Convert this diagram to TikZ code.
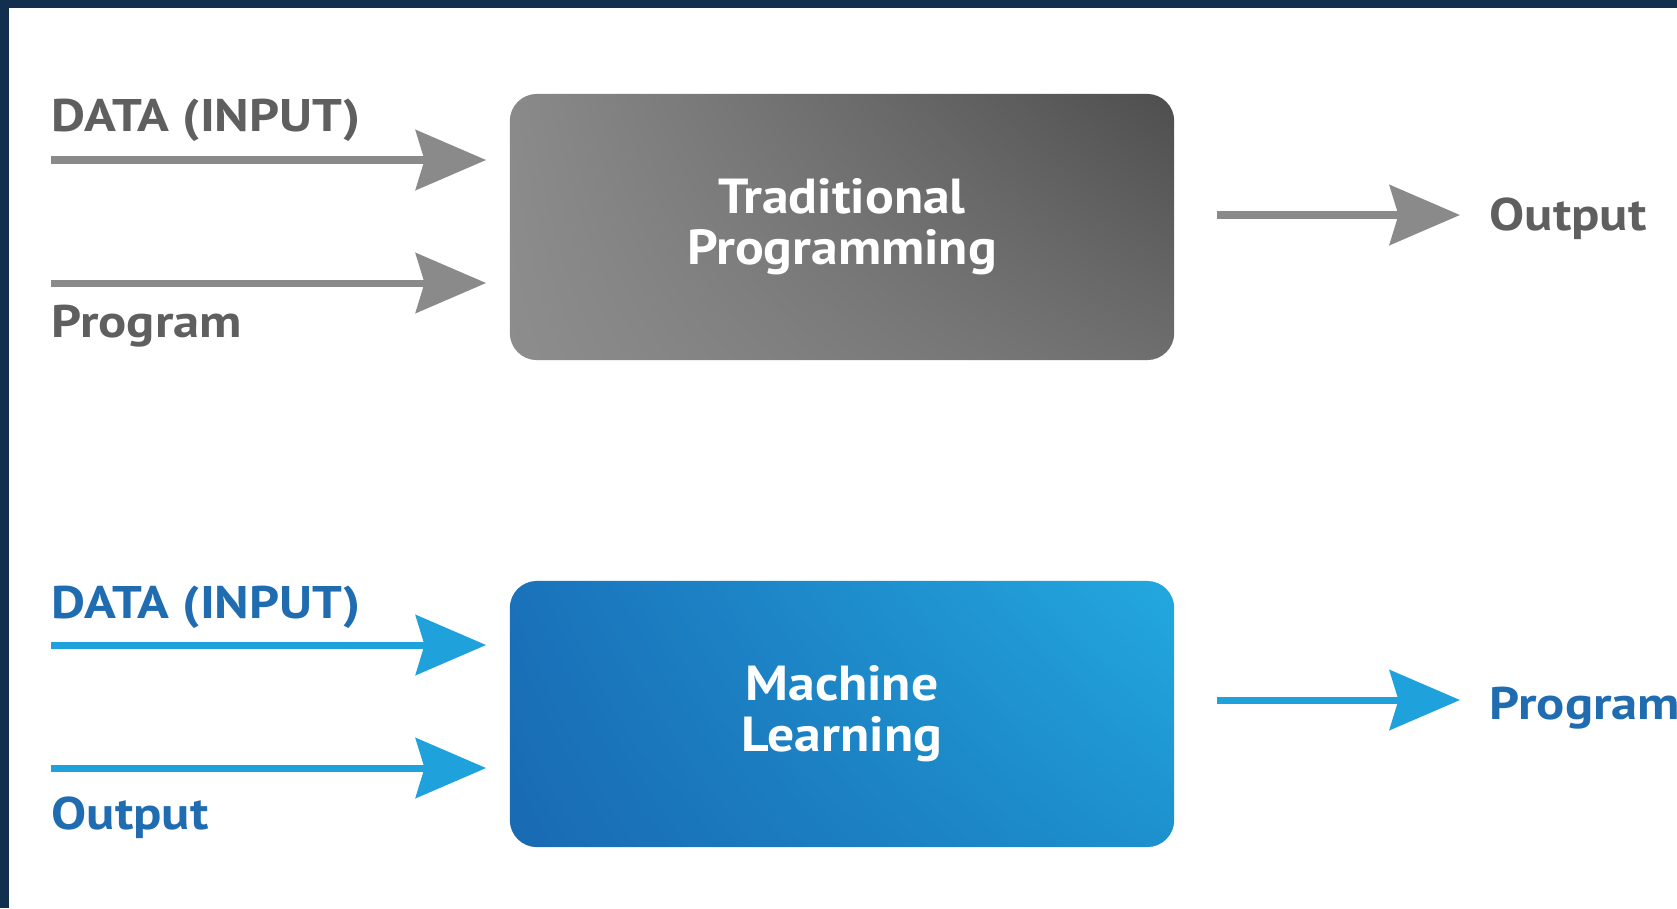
\documentclass[tikz,border=0pt]{standalone}
\usepackage{fontspec}
\setmainfont{PT Sans}
\newfontfamily\labfont[FakeStretch=1.15]{PT Sans}
\newfontfamily\boxfont[FakeStretch=1.09]{PT Sans}
\usetikzlibrary{arrows.meta,positioning,shadings}
\definecolor{frameblue}{HTML}{12304E}
\definecolor{labgray}{HTML}{5F5F5F}
\definecolor{arrgray}{HTML}{8A8A8A}
\definecolor{labblue}{HTML}{1F6DB0}
\definecolor{arrblue}{HTML}{1FA2DB}
\definecolor{grayUL}{HTML}{8A8A8A}
\definecolor{grayLL}{HTML}{8D8D8D}
\definecolor{grayUR}{HTML}{4E4E4E}
\definecolor{grayLR}{HTML}{6E6E6E}
\definecolor{blueUL}{HTML}{1A72BA}
\definecolor{blueLL}{HTML}{196AB2}
\definecolor{blueUR}{HTML}{23A8DF}
\definecolor{blueLR}{HTML}{1D91CE}
\tikzset{
  lab/.style={font=\labfont\fontsize{13}{15}\selectfont\bfseries, inner sep=0pt, anchor=base west},
  boxtext/.style={font=\boxfont\fontsize{14}{14.5}\selectfont\bfseries, text=white, align=center},
  procbox/.style={boxtext, rounded corners=0.27cm, minimum width=6.64cm, minimum height=2.66cm, inner sep=0pt},
  flow/.style={line width=2pt, -{Stealth[length=20pt, width=17pt, inset=2.5pt]}},
}
\begin{document}
\begin{tikzpicture}[x=0.01cm, y=-0.01cm]
				\useasboundingbox (0,0) rectangle (1677,908);
				\fill[frameblue] (0,0) rectangle (1677,908);
				\fill[white] (8.5,7.5) rectangle (1677,908);
				% traditional programming
				\node [procbox, upper left=grayUL, lower left=grayLL, upper right=grayUR, lower right=grayLR] (tp) at (842,227) {Traditional\\Programming};
				\node [lab, text=labgray] (din1) at (51,131) {DATA (INPUT)};
				\node [lab, text=labgray] (prog1) at (51,337) {Program};
				\node [lab, text=labgray] (out1) at (1489,230) {Output};
				\coordinate (a1) at (51,160);
				\coordinate (a2) at (51,283);
				\coordinate (a3) at (1217,215);
				\draw [flow, arrgray] (a1) -- ([xshift=-0.23cm]a1 -| tp.west);
				\draw [flow, arrgray] (a2) -- ([xshift=-0.23cm]a2 -| tp.west);
				\draw [flow, arrgray] (a3) -- ([xshift=-0.29cm]a3 -| out1.west);
				% machine learning
				\node [procbox, upper left=blueUL, lower left=blueLL, upper right=blueUR, lower right=blueLR] (ml) at (842,714) {Machine\\Learning};
				\node [lab, text=labblue] (din2) at (51,618) {DATA (INPUT)};
				\node [lab, text=labblue] (out2) at (51,829) {Output};
				\node [lab, text=labblue] (prog2) at (1489,719) {Program};
				\coordinate (b1) at (51,645);
				\coordinate (b2) at (51,768);
				\coordinate (b3) at (1217,700);
				\draw [flow, arrblue] (b1) -- ([xshift=-0.23cm]b1 -| ml.west);
				\draw [flow, arrblue] (b2) -- ([xshift=-0.23cm]b2 -| ml.west);
				\draw [flow, arrblue] (b3) -- ([xshift=-0.29cm]b3 -| prog2.west);
			\end{tikzpicture}
\end{document}
